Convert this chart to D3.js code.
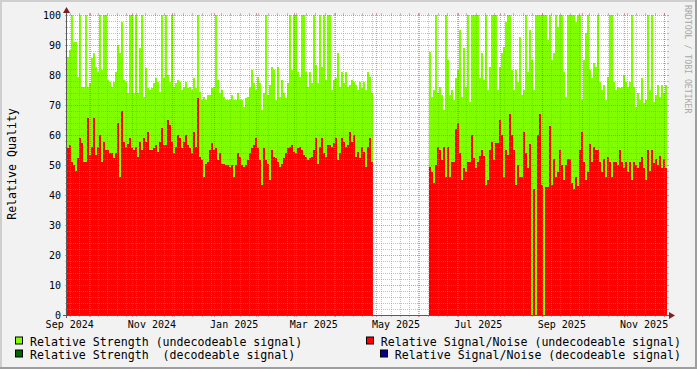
<!DOCTYPE html>
<html>
<head>
<meta charset="utf-8">
<script src="https://cdn.jsdelivr.net/npm/d3@7"></script>
<style>
  html, body { margin: 0; padding: 0; background: #f2f2f2; }
  svg { display: block; }
  text { font-family: 'DejaVu Sans Mono', monospace; white-space: pre; }
</style>
</head>
<body>
<svg id="chart" width="697" height="369"></svg>
<script>
/*
 * Time base (one RRD step per value)
 */
var START = Date.UTC(2024, 8, 14),
    END   = Date.UTC(2025, 11, 3),
    POINTS = 300,
    GAP_POINTS = 28;   // no data between mid April and early June

/*
 * Data: relative strength / signal-noise, undecodeable signal
 */
var strengthBefore = [
    86.1, 88.3, 100, 91.1, 91.1, 79.4, 100, 76.1, 76.1, 100,
    76.1, 77.2, 85.6, 87.2, 82.8, 81.1, 100, 81.7, 100, 100,
    78.3, 77.8, 76.1, 77.8, 81.1, 90.0, 87.2, 97.8, 78.3, 77.8,
    73.9, 100, 100, 73.9, 100, 73.9, 88.9, 100, 72.8, 82.2,
    75.6, 75.0, 75.6, 77.2, 78.9, 77.8, 74.4, 100, 78.9, 100,
    80.0, 77.8, 100, 76.1, 77.2, 78.3, 77.8, 75.0, 76.1, 77.8,
    75.6, 76.1, 75.0, 78.9, 75.6, 100, 74.4, 71.7, 72.8, 71.7,
    73.3, 73.3, 75.6, 76.1, 100, 78.3, 73.9, 75.0, 72.8, 71.7,
    71.7, 71.7, 73.3, 71.7, 71.7, 73.9, 71.7, 71.7, 69.4, 72.2,
    72.8, 76.1, 81.7, 77.2, 75.0, 79.4, 77.2, 68.3, 73.9, 100,
    73.3, 76.7, 82.8, 81.7, 71.7, 82.8, 72.8, 78.3, 73.9, 72.2,
    77.2, 100, 81.7, 100, 100, 81.1, 79.4, 100, 100, 81.1,
    76.1, 81.1, 77.2, 100, 83.3, 77.2, 100, 82.8, 100, 78.3,
    100, 100, 75.0, 78.3, 78.9, 87.2, 76.1, 81.1, 77.2, 81.1,
    76.1, 76.7, 78.3, 77.8, 76.7, 75.0, 77.8, 75.6, 77.8, 75.0,
    81.1, 79.4, 73.9
];

var strengthAfter = [
    87.8, 72.8, 75.0, 100, 73.9, 76.1, 73.3, 68.3, 100, 85.0,
    73.3, 75.0, 71.7, 78.9, 81.7, 95.0, 72.8, 88.9, 76.1, 100,
    71.1, 100, 100, 100, 100, 78.9, 87.2, 78.3, 100, 75.0,
    82.8, 100, 100, 100, 75.0, 82.8, 87.2, 89.4, 97.8, 100,
    100, 81.7, 75.0, 81.7, 77.8, 92.8, 73.3, 75.0, 100, 81.1,
    95.0, 85.0, 75.0, 100, 100, 100, 100, 100, 100, 91.7,
    100, 85.0, 87.2, 100, 96.1, 100, 100, 81.1, 72.8, 100,
    100, 100, 100, 97.8, 100, 100, 71.7, 85.0, 93.9, 100,
    81.7, 78.9, 83.9, 82.8, 100, 77.8, 75.0, 76.7, 71.7, 79.4,
    100, 100, 77.8, 75.0, 76.1, 75.6, 76.1, 80.0, 77.8, 76.1,
    77.8, 100, 76.1, 69.4, 73.9, 71.7, 78.9, 70.6, 71.7, 100,
    75.0, 100, 71.1, 73.3, 76.7, 72.8, 76.7, 73.9, 76.7
];

var snrBefore = [
    55.6, 56.7, 51.1, 50.0, 48.0, 52.2, 58.9, 57.2, 51.1, 51.1,
    65.8, 53.3, 56.1, 65.8, 53.3, 56.1, 60.0, 51.1, 57.8, 55.0,
    55.0, 53.9, 53.9, 52.2, 53.9, 63.9, 46.1, 68.0, 57.8, 56.1,
    56.9, 58.9, 55.6, 55.0, 56.1, 52.8, 57.8, 55.0, 58.9, 57.8,
    61.1, 55.0, 55.0, 55.6, 56.7, 54.4, 57.8, 62.2, 56.7, 56.7,
    65.0, 63.3, 57.8, 53.9, 56.1, 60.0, 58.9, 55.6, 57.8, 60.0,
    56.7, 55.6, 53.9, 61.1, 56.1, 72.2, 52.8, 51.7, 46.1, 50.5,
    51.1, 55.0, 57.2, 55.0, 55.6, 51.7, 53.9, 50.5, 50.5, 50.0,
    50.0, 49.4, 50.0, 46.1, 50.0, 53.9, 52.8, 50.0, 49.4, 50.0,
    51.7, 53.9, 55.6, 56.7, 58.9, 55.6, 51.7, 43.3, 55.6, 51.7,
    50.5, 45.0, 55.0, 52.8, 52.2, 51.1, 49.4, 50.5, 52.2, 53.9,
    55.6, 56.1, 56.7, 54.4, 53.9, 55.6, 56.1, 55.0, 53.3, 52.8,
    51.7, 52.2, 52.8, 55.0, 58.9, 50.5, 56.1, 58.9, 53.9, 52.8,
    56.7, 56.7, 56.1, 57.2, 58.9, 51.7, 53.9, 58.9, 57.8, 56.1,
    56.7, 61.1, 57.8, 60.0, 52.8, 54.4, 52.2, 56.1, 54.4, 49.4,
    56.1, 58.9, 51.1
];

var snrAfter = [
    49.4, 47.8, 43.9, 50.0, 56.1, 55.0, 51.7, 56.1, 46.1, 56.1,
    46.1, 51.1, 51.1, 61.9, 64.1, 53.9, 45.0, 48.9, 47.8, 51.1,
    51.1, 60.0, 52.2, 48.9, 51.1, 53.0, 55.0, 53.0, 43.3, 45.0,
    55.0, 57.8, 51.7, 57.2, 57.2, 65.0, 60.0, 46.1, 55.0, 53.3,
    67.0, 60.0, 55.0, 43.3, 50.0, 46.1, 46.1, 61.0, 53.9, 48.9,
    57.0, 0, 42.0, 0, 60.0, 67.0, 43.3, 0, 42.8, 42.8,
    63.0, 43.3, 51.9, 46.1, 47.8, 55.0, 50.0, 45.0, 50.0, 51.9,
    51.9, 43.9, 41.9, 46.1, 43.0, 55.0, 61.1, 51.1, 45.0, 47.8,
    57.0, 51.1, 56.1, 55.0, 55.0, 51.1, 47.8, 51.9, 46.1, 52.8,
    51.1, 46.1, 51.1, 51.1, 50.0, 55.0, 51.1, 48.9, 51.1, 47.8,
    51.1, 45.0, 51.1, 50.0, 48.9, 51.1, 52.8, 48.9, 45.0, 55.0,
    48.1, 55.0, 50.6, 51.9, 50.0, 53.0, 48.9, 51.9, 48.9
];

/*
 * Axis labels and legend
 */
var monthLabels = ['Sep 2024', 'Nov 2024', 'Jan 2025', 'Mar 2025',
                   'May 2025', 'Jul 2025', 'Sep 2025', 'Nov 2025'];
var yTicks = [0, 10, 20, 30, 40, 50, 60, 70, 80, 90, 100];

var legendLeft = ['Relative Strength (undecodeable signal)',
                  'Relative Strength  (decodeable signal)'];
var legendLeftColors = ['#80ff00', '#006400'];
var legendRight = ['Relative Signal/Noise (undecodeable signal)',
                   'Relative Signal/Noise (decodeable signal)'];
var legendRightColors = ['#ff0000', '#000090'];

/*
 * Style
 */
var W = 697, H = 369,
    X0 = 67, X1 = 667, YT = 15, YB = 315,
    GREEN = '#80ff00', RED = '#ff0000',
    GRID = 'rgba(143,143,143,0.55)', MGRID = 'rgba(222,79,79,0.6)',
    ARROW = '#7f1f1f', AXIS = '#5a5a5a';

var STEP = (END - START) / POINTS;

function buildSeries(before, after) {
    var gap = d3.range(GAP_POINTS).map(function () { return null; });
    return before.concat(gap, after).map(function (v, i) {
        return { t0: new Date(START + i * STEP), t1: new Date(START + (i + 1) * STEP), v: v };
    }).filter(function (d) { return d.v !== null; });
}

var svg = d3.select('#chart');

var x = d3.scaleUtc().domain([new Date(START), new Date(END)]).range([X0, X1]);
var y = d3.scaleLinear().domain([0, 100]).range([YB, YT]);

// background and shading border
svg.append('rect').attr('width', W).attr('height', H).attr('fill', '#f2f2f2');
svg.append('rect').attr('x', 0).attr('y', 0).attr('width', W).attr('height', 2).attr('fill', '#cfcfcf');
svg.append('rect').attr('x', 0).attr('y', 0).attr('width', 2).attr('height', H).attr('fill', '#cfcfcf');
svg.append('rect').attr('x', 0).attr('y', H - 2).attr('width', W).attr('height', 2).attr('fill', '#9e9e9e');
svg.append('rect').attr('x', W - 2).attr('y', 0).attr('width', 2).attr('height', H).attr('fill', '#9e9e9e');

// canvas
svg.append('rect').attr('x', X0).attr('y', YT).attr('width', X1 - X0).attr('height', YB - YT).attr('fill', '#fff');

function drawArea(data, color) {
    svg.append('g').attr('shape-rendering', 'crispEdges')
        .selectAll('rect').data(data).enter().append('rect')
        .attr('x', function (d) { return Math.round(x(d.t0)); })
        .attr('width', function (d) { return Math.round(x(d.t1)) - Math.round(x(d.t0)); })
        .attr('y', function (d) { return Math.round(y(d.v)); })
        .attr('height', function (d) { return YB - Math.round(y(d.v)); })
        .attr('fill', color);
}

drawArea(buildSeries(strengthBefore, strengthAfter), GREEN);
drawArea(buildSeries(snrBefore, snrAfter), RED);

/*
 * Grid (on top of the data, rrdtool style)
 */
var grid = svg.append('g').attr('shape-rendering', 'crispEdges');

function hLine(v, color) {
    var yy = Math.round(y(v)) + 0.5;
    grid.append('line').attr('x1', X0 - 2).attr('x2', X0).attr('y1', yy).attr('y2', yy).attr('stroke', color);
    grid.append('line').attr('x1', X1).attr('x2', X1 + 2).attr('y1', yy).attr('y2', yy).attr('stroke', color);
    grid.append('line').attr('x1', X0).attr('x2', X1).attr('y1', yy).attr('y2', yy)
        .attr('stroke', color).attr('stroke-dasharray', '1,1');
}

function vLine(d, color) {
    var xx = Math.round(x(d)) + 0.5;
    grid.append('line').attr('x1', xx).attr('x2', xx).attr('y1', YT - 2).attr('y2', YT).attr('stroke', color);
    grid.append('line').attr('x1', xx).attr('x2', xx).attr('y1', YB).attr('y2', YB + 2).attr('stroke', color);
    grid.append('line').attr('x1', xx).attr('x2', xx).attr('y1', YT).attr('y2', YB)
        .attr('stroke', color).attr('stroke-dasharray', '1,1');
}

y.ticks(50).forEach(function (v) {
    if (v > 0 && v % 10 !== 0) hLine(v, GRID);
});
d3.utcMonday.range(new Date(START), new Date(END)).forEach(function (d) { vLine(d, GRID); });
yTicks.forEach(function (v) { if (v > 0) hLine(v, MGRID); });
d3.utcMonth.range(new Date(START), new Date(END)).forEach(function (d) { vLine(d, MGRID); });

/*
 * Axes and arrows
 */
svg.append('line').attr('x1', X0 - 4).attr('x2', X1 + 3).attr('y1', YB + 0.5).attr('y2', YB + 0.5)
    .attr('stroke', AXIS).attr('shape-rendering', 'crispEdges');
svg.append('line').attr('x1', X0 - 0.5).attr('x2', X0 - 0.5).attr('y1', YB + 3).attr('y2', YT - 3)
    .attr('stroke', AXIS).attr('shape-rendering', 'crispEdges');
svg.append('path').attr('d', 'M' + (X1 + 2) + ',' + (YB - 3) + 'L' + (X1 + 8) + ',' + (YB + 0.5) +
    'L' + (X1 + 2) + ',' + (YB + 4) + 'Z').attr('fill', ARROW);
svg.append('path').attr('d', 'M' + (X0 - 4) + ',' + (YT - 2) + 'L' + (X0 - 0.5) + ',' + (YT - 8) +
    'L' + (X0 + 3) + ',' + (YT - 2) + 'Z').attr('fill', ARROW);

// y tick labels
svg.append('g').selectAll('text').data(yTicks).enter().append('text')
    .attr('x', X0 - 6)
    .attr('y', function (v) { return y(v) + 3.6; })
    .attr('text-anchor', 'end')
    .attr('font-size', '10px')
    .attr('fill', '#000')
    .text(function (v) { return v; });

// x month labels, centred mid-month
var parseMonth = d3.utcParse('%b %Y');
svg.append('g').selectAll('text').data(monthLabels).enter().append('text')
    .attr('x', function (s) { return x(d3.utcDay.offset(parseMonth(s), 15)); })
    .attr('y', 328)
    .attr('text-anchor', 'middle')
    .attr('font-size', '10px')
    .attr('fill', '#000')
    .text(function (s) { return s; });

// y axis title
svg.append('text')
    .attr('transform', 'translate(15.5,164) rotate(-90)')
    .attr('text-anchor', 'middle')
    .attr('font-size', '11.6px')
    .attr('fill', '#000')
    .text('Relative Quality');

// watermark
svg.append('text')
    .attr('transform', 'translate(685,5) rotate(90)')
    .attr('font-size', '8.2px')
    .attr('fill', '#a8a8a8')
    .text('RRDTOOL / TOBI OETIKER');

/*
 * Legend
 */
var ROW_Y = [345.5, 358.5];

legendLeft.forEach(function (label, i) {
    svg.append('rect').attr('x', 15.5).attr('y', ROW_Y[i] - 8.5).attr('width', 7).attr('height', 7)
        .attr('fill', legendLeftColors[i]).attr('stroke', '#000');
    svg.append('text').attr('x', 30).attr('y', ROW_Y[i])
        .attr('font-size', '11.6px').attr('fill', '#000').text(label);
});

legendRight.forEach(function (label, i) {
    var t = svg.append('text').attr('x', 681).attr('y', ROW_Y[i])
        .attr('text-anchor', 'end')
        .attr('font-size', '11.6px').attr('fill', '#000').text(label);
    var start = 681 - t.node().getComputedTextLength();
    svg.append('rect').attr('x', Math.round(start) - 14.5).attr('y', ROW_Y[i] - 8.5).attr('width', 7).attr('height', 7)
        .attr('fill', legendRightColors[i]).attr('stroke', '#000');
});
</script>
</body>
</html>
